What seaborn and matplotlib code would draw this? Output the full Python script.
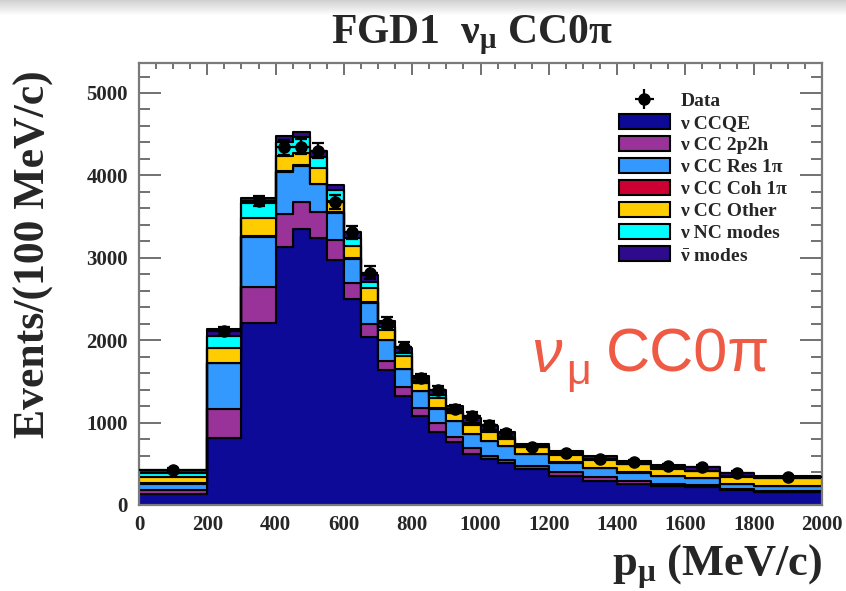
import numpy as np
import pandas as pd
import matplotlib
matplotlib.use("Agg")
import matplotlib.pyplot as plt
import seaborn as sns
from matplotlib.patches import Patch
from matplotlib.ticker import MultipleLocator

# Bin edges (MeV/c), variable width
EDGES = [0, 200, 300, 400, 450, 500, 550, 600, 650, 700, 750, 800, 850, 900,
         950, 1000, 1050, 1100, 1200, 1300, 1400, 1500, 1600, 1700, 1800, 2000]

# MC components, events per 100 MeV/c, bottom to top of the stack
CCQE = [130, 810, 2210, 3130, 3350, 3240, 2970, 2500, 2040, 1640, 1320, 1085, 890,
        760, 620, 555, 505, 437, 356, 295, 255, 235, 215, 182, 162]
CC2P2H = [50, 360, 430, 400, 330, 310, 240, 200, 160, 110, 115, 95, 100,
          70, 70, 45, 45, 41, 41, 41, 40, 24, 25, 18, 12]
RES1PI = [75, 550, 610, 510, 440, 340, 330, 290, 255, 250, 215, 205, 180,
          190, 170, 180, 165, 137, 117, 117, 98, 93, 82, 55, 57]
COH1PI = [10, 5, 10, 10, 10, 10, 10, 5, 5, 5, 5, 3, 3,
          3, 2, 2, 2, 2, 2, 2, 2, 1, 1, 1, 1]
CCOTHER = [75, 175, 220, 190, 140, 190, 140, 145, 175, 120, 150, 87, 127,
           97, 108, 103, 88, 88, 96, 91, 99, 84, 87, 88, 92]
NCMODES = [50, 150, 180, 160, 190, 130, 130, 100, 75, 40, 45, 25, 30,
           20, 20, 20, 15, 10, 10, 10, 8, 8, 8, 8, 6]
NUBAR = [30, 90, 70, 80, 70, 70, 60, 70, 80, 65, 60, 70, 70,
         60, 60, 55, 60, 30, 38, 34, 38, 40, 42, 38, 20]

# Data points and statistical errors
DATA = [430, 2110, 3690, 4340, 4350, 4300, 3680, 3310, 2820, 2210, 1920, 1540, 1390,
        1160, 1080, 970, 870, 700, 635, 555, 525, 470, 465, 393, 345]
DATA_ERR = [15, 46, 61, 93, 93, 93, 86, 81, 75, 66, 62, 55, 53,
            48, 46, 44, 42, 26, 25, 24, 23, 22, 22, 20, 13]

MODES = ['ccqe', '2p2h', 'res', 'coh', 'other', 'nc', 'nubar']
LABELS = ['ν CCQE', 'ν CC 2p2h', 'ν CC Res 1π', 'ν CC Coh 1π', 'ν CC Other',
          'ν NC modes', r'$\mathregular{\bar{\nu}}$ modes']
COLORS = ['#0c0a96', '#993399', '#3399ff', '#cc0033', '#ffcc00', '#00ffff', '#2e0a8c']

sns.set_style('ticks')
plt.rcParams['font.family'] = ['Liberation Serif', 'DejaVu Serif']
plt.rcParams['font.weight'] = 'bold'
plt.rcParams['mathtext.fontset'] = 'stix'

edges = np.array(EDGES, dtype=float)
centers = 0.5 * (edges[1:] + edges[:-1])
halfw = 0.5 * (edges[1:] - edges[:-1])

rows = []
for mode, vals in zip(MODES, [CCQE, CC2P2H, RES1PI, COH1PI, CCOTHER, NCMODES, NUBAR]):
    for c, v in zip(centers, vals):
        rows.append({'p': c, 'w': v, 'mode': mode})
df = pd.DataFrame(rows)

fig = plt.figure(figsize=(8.46, 5.91), dpi=100)
ax = fig.add_axes([139 / 846, 1 - 505 / 591, 683 / 846, 442 / 591])

# seaborn stacks the last hue level at the bottom
sns.histplot(data=df, x='p', weights='w', hue='mode', hue_order=MODES[::-1],
             palette=dict(zip(MODES, COLORS)), bins=EDGES, multiple='stack',
             element='step', fill=True, alpha=1, edgecolor='black', linewidth=1.5,
             legend=False, ax=ax)

eb = ax.errorbar(centers, DATA, xerr=halfw, yerr=DATA_ERR, fmt='o', color='black',
                 ms=8, lw=1.6, capsize=0, zorder=6)
ax.errorbar(centers, DATA, yerr=DATA_ERR, fmt='none', ecolor='black', lw=1.6,
            capsize=4, capthick=1.6, zorder=6)

ax.set_xlim(0, 2000)
ax.set_ylim(0, 5364)
ax.set_xlabel('')
ax.set_ylabel('')
ax.xaxis.set_major_locator(MultipleLocator(200))
ax.xaxis.set_minor_locator(MultipleLocator(50))
ax.yaxis.set_major_locator(MultipleLocator(1000))
ax.yaxis.set_minor_locator(MultipleLocator(200))
ax.tick_params(which='both', direction='in', top=True, right=True, color='#666666',
               width=1.3, labelsize=15)
ax.tick_params(axis='x', which='major', length=8.5, pad=7)
ax.tick_params(axis='x', which='minor', length=4)
ax.tick_params(axis='y', which='major', length=16, pad=8)
ax.tick_params(axis='y', which='minor', length=8)
for s in ax.spines.values():
    s.set_color('#7a7a7a')
    s.set_linewidth(1.6)
for lab in ax.get_xticklabels() + ax.get_yticklabels():
    lab.set_fontweight('bold')

handles = [eb] + [Patch(facecolor=c, edgecolor='black', linewidth=1.5) for c in COLORS]
ax.legend(handles, ['Data'] + LABELS, loc='upper left', bbox_to_anchor=(0.703, 0.935),
          frameon=False, fontsize=14, handlelength=2.6, handleheight=0.8,
          labelspacing=0.2, handletextpad=0.55, borderpad=0, borderaxespad=0)

fig.text(472 / 846, 1 - 35 / 591, r'FGD1  $\mathregular{\nu_{\mu}}$ CC0π', ha='center',
         va='center', fontsize=30, fontweight='bold')
fig.text(34 / 846, 1 - 70 / 591, 'Events/(100 MeV/c)', rotation=90, ha='center',
         va='top', fontsize=31.5, fontweight='bold')
fig.text(822 / 846, 1 - 576 / 591, r'p$\mathregular{_{\mu}}$ (MeV/c)', ha='right',
         va='baseline', fontsize=32, fontweight='bold')

# red annotation, drawn in pieces: italic nu, subscript mu, then CC0pi
red = '#ee5a43'
sans = ['Liberation Sans', 'DejaVu Sans']
fig.text(531 / 846, 1 - 372 / 591, 'ν', ha='left', va='baseline', fontsize=44,
         fontweight='normal', fontstyle='italic', color=red, family=sans)
fig.text(566 / 846, 1 - 384 / 591, 'μ', ha='left', va='baseline', fontsize=31,
         fontweight='normal', color=red, family=sans)
fig.text(606 / 846, 1 - 372 / 591, 'CC0π', ha='left', va='baseline', fontsize=44,
         fontweight='normal', color=red, family=sans)

# soft shadow along the top edge of the screenshot
shade = fig.add_axes([0, 1 - 16 / 591, 1, 16 / 591], zorder=-1)
grad = np.linspace(0.82, 1.0, 16).reshape(-1, 1) * np.ones((1, 50))
shade.imshow(grad, cmap='gray', vmin=0, vmax=1, aspect='auto')
shade.axis('off')

fig.savefig('out.png', dpi=100)
